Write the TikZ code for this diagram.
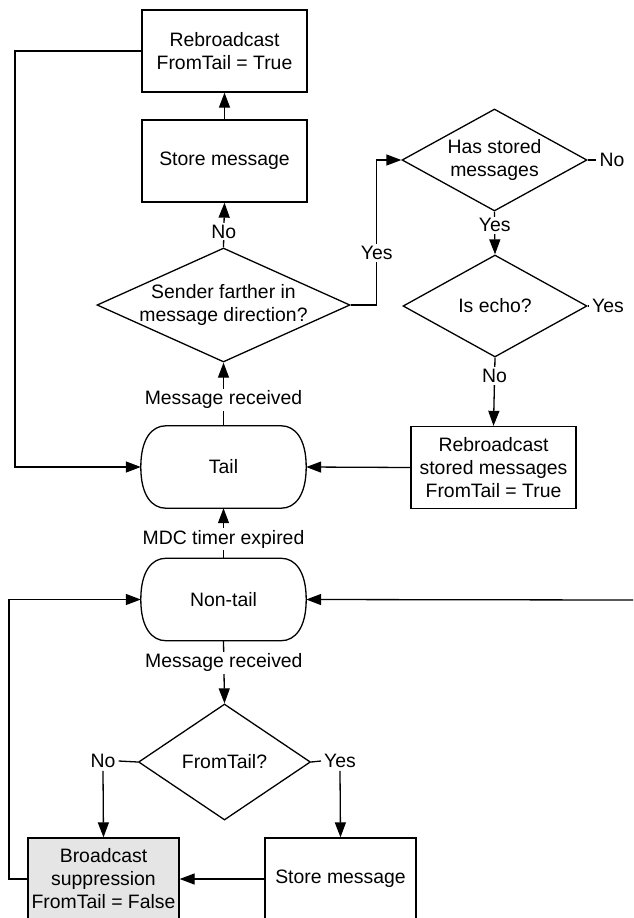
\documentclass[tikz,border=0pt]{standalone}
\usepackage{fontspec}
\setmainfont{Liberation Sans}
\usetikzlibrary{shapes.geometric,arrows.meta}
\definecolor{supgray}{HTML}{E5E5E5}

\begin{document}
\begin{tikzpicture}[x=1pt,y=-1pt,
  every node/.style={font=\fontsize{19.4}{23}\selectfont},
  line/.style={line width=1.3pt},
  arr/.style={line, -{Triangle[length=15pt,width=11pt]}},
  box/.style={draw, line width=1.3pt, minimum width=165pt, minimum height=82pt,
              align=center, inner sep=0pt},
  sbox/.style={box, minimum width=151pt},
  state/.style={rectangle, minimum width=165pt, minimum height=82pt, inner sep=0pt},
  dia/.style={draw, line width=1.3pt, diamond, inner sep=0pt},
  lab/.style={fill=white, inner sep=2pt},
  tag/.style={inner sep=3pt},
]
\useasboundingbox (0,0) rectangle (633,918);

% tail branch
\node[box] (rb) at (224.5,51) {Rebroadcast\\FromTail = True};
\node[box] (st) at (224.5,161) {Store message};
\node[dia, minimum width=253pt, minimum height=114pt,
      label={[align=center]center:Sender farther in\\message direction?}] (snd) at (223.5,305) {};
\node[dia, minimum width=185pt, minimum height=102pt,
      label={[align=center]center:Has stored\\messages}] (has) at (494.5,160) {};
\node[dia, minimum width=184pt, minimum height=102pt,
      label={center:Is echo?}] (echo) at (495,306) {};
\node[box] (rbs) at (493.5,467.5) {Rebroadcast\\stored messages\\FromTail = True};
\node[state] (tail) at (223.5,467) {Tail};

% non-tail branch
\node[state] (ntail) at (223.5,599.5) {Non-tail};
\node[dia, minimum width=172pt, minimum height=116pt,
      label={center:FromTail?}] (ft) at (224.5,762) {};
\node[sbox, fill=supgray] (sup) at (103.5,879) {Broadcast\\suppression\\FromTail = False};
\node[sbox] (st2) at (340.5,879) {Store message};

% state outlines: straight top and bottom, bulging sides
\foreach \n in {tail,ntail} {
  \draw[line]
    ([xshift=25pt]\n.north west) -- ([xshift=-25pt]\n.north east)
    .. controls ([xshift=-11pt]\n.north east) and ([yshift=-13pt]\n.north east) .. (\n.east)
    .. controls ([yshift=13pt]\n.south east) and ([xshift=-11pt]\n.south east) .. ([xshift=-25pt]\n.south east)
    -- ([xshift=25pt]\n.south west)
    .. controls ([xshift=11pt]\n.south west) and ([yshift=13pt]\n.south west) .. (\n.west)
    .. controls ([yshift=-13pt]\n.north west) and ([xshift=11pt]\n.north west) .. cycle;
}

% outcome tags beside the decisions
\node[tag] (hasno) at (612,160) {No};
\node[tag] (echoyes) at (608,306) {Yes};
\node[tag] (ftno) at (103,761) {No};
\node[tag] (ftyes) at (340,761) {Yes};

\coordinate (lx) at (15,0);
\coordinate (lx2) at (9,0);
\coordinate (redge) at (633,600);

% connectors: tail side
\draw[arr] (st.north) -- (rb.south);
\draw[arr] (snd.north) -- node[lab, pos=0.35]{No} (st.south);
\draw[arr] (snd.east) -- ++(26,0) |- node[lab, pos=0.18]{Yes} (has.west);
\draw[line] (has.east) -- (hasno.west);
\draw[arr] (has.south) -- node[lab, pos=0.32]{Yes} (echo.north);
\draw[line] (echo.east) -- (echoyes.west);
\draw[arr] (echo.south) -- node[lab, pos=0.27]{No} (rbs.north);
\draw[arr] (rbs.west) -- (tail.east);
\draw[arr] (rb.west) -- (rb.west -| lx) |- (tail.west);
\draw[arr] (tail.north) -- node[lab, pos=0.41]{Message received} (snd.south);

% connectors: non-tail side
\draw[arr] (ntail.north) -- node[lab, pos=0.38]{MDC timer expired} (tail.south);
\draw[arr] (redge) -- (ntail.east);
\draw[arr] (sup.west) -- (sup.west -| lx2) |- (ntail.west);
\draw[arr] (ntail.south) -- node[lab, pos=0.35]{Message received} (ft.north);
\draw[line] (ft.west) -- (ftno.east);
\draw[arr] (ftno.south) -- (sup.north);
\draw[line] (ft.east) -- (ftyes.west);
\draw[arr] (ftyes.south) -- (st2.north);
\draw[arr] (st2.west) -- (sup.east);
\end{tikzpicture}
\end{document}
